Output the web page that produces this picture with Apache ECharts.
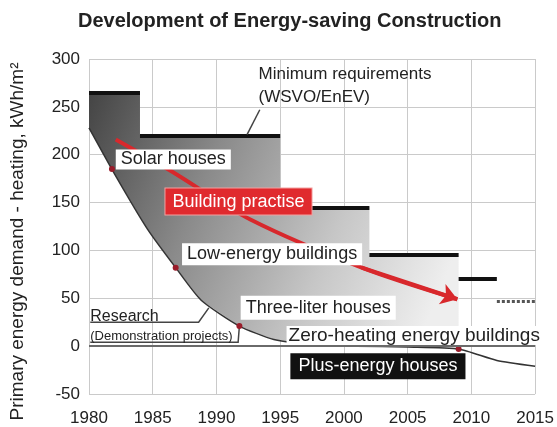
<!DOCTYPE html>
<html>
<head>
<meta charset="utf-8">
<script src="https://cdn.jsdelivr.net/npm/echarts@6/dist/echarts.min.js"></script>
<style>
  html, body { margin: 0; padding: 0; background: #fff; }
  #chart { width: 557px; height: 427px; }
</style>
</head>
<body>
<div id="chart"></div>
<script>
// minimum requirements (WSVO/EnEV): [from, to, value]
const minReqSteps = [[1980, 1984, 265], [1984, 1995, 220], [1995, 2002, 145], [2002, 2009, 95], [2009, 2012, 70]]
const minReqPlanned = [[2012, 2015, 47]]

// research / demonstration projects curve
const researchCurve = [
  [1980, 228], [1982, 180], [1984.6, 122], [1986.8, 82], [1988.8, 48], [1991.8, 21],
  [1994.5, 7], [1998, 1], [2001, 0], [2005, -1], [2009, -3], [2012, -15], [2015, -21],
]
const curveDots = [[1981.8, 185], [1986.8, 82], [1991.8, 21], [2009, -3]]

// building practise arrow
const practisePath = [[1982.1, 216], [1986.3, 184], [1992.7, 132], [2001.4, 82], [2008.9, 49]]

// leader lines
const minReqLeader = [[1992.4, 221], [1993.4, 247]]
const researchLeader = [[1980.1, 25], [1988.6, 25], [1989.4, 40]]
const demoLeader = [[1980.1, 4], [1991.7, 4], [1991.8, 21]]

// annotations: [text, x, y]
const annotations = [
  ['Minimum requirements\n(WSVO/EnEV)', 1993.3, 272],
  ['Solar houses', 1982.1, 195],
  ['Building practise', 1986.0, 151],
  ['Low-energy buildings', 1987.3, 96],
  ['Three-liter houses', 1991.9, 40],
  ['Research', 1980.1, 31],
  ['(Demonstration projects)', 1980.1, 10],
  ['Zero-heating energy buildings', 1995.5, 11],
  ['Plus-energy houses', 1995.8, -21],
]

const FONT = '"Liberation Sans", Arial, sans-serif'

const labelStyles = {
  'Minimum requirements\n(WSVO/EnEV)': { fontSize: 17, lineHeight: 23, color: '#222' },
  'Solar houses': { fontSize: 18, color: '#222', backgroundColor: '#fff', padding: [1, 5] },
  'Building practise': { fontSize: 18, color: '#fff', backgroundColor: '#e02a2e', borderColor: '#f3a0a0', borderWidth: 1, padding: [4, 7] },
  'Low-energy buildings': { fontSize: 18, color: '#222', backgroundColor: '#fff', padding: [2, 5] },
  'Three-liter houses': { fontSize: 18, color: '#222', backgroundColor: '#fff', padding: [3, 5] },
  'Research': { fontSize: 16, color: '#222' },
  '(Demonstration projects)': { fontSize: 13, color: '#222' },
  'Zero-heating energy buildings': { fontSize: 19, color: '#222', backgroundColor: '#fff', padding: [0, 2] },
  'Plus-energy houses': { fontSize: 18, color: '#fff', backgroundColor: '#111', padding: [4, 8] },
}

// gray area between the requirement steps and the research curve
function areaOutline() {
  const top = []
  minReqSteps.slice(0, 4).forEach(([s, e, v]) => { top.push([s, v], [e, v]) })
  const bottom = researchCurve.filter(p => p[0] <= 2009).slice().reverse()
  return top.concat(bottom)
}

const chart = echarts.init(document.getElementById('chart'))

const option = {
  animation: false,
  textStyle: { fontFamily: FONT },
  title: {
    text: 'Development of Energy-saving Construction',
    left: 73,
    top: 6,
    textStyle: { fontFamily: FONT, fontSize: 20, fontWeight: 'bold', color: '#222' },
  },
  grid: { left: 86, right: 18, top: 59, bottom: 32 },
  xAxis: {
    type: 'value',
    min: 1980,
    max: 2015,
    interval: 5,
    axisLine: { show: false },
    axisTick: { show: false },
    axisLabel: { fontSize: 17, color: '#222', margin: 16, formatter: v => String(v) },
    splitLine: { lineStyle: { color: '#cacaca' } },
  },
  yAxis: {
    type: 'value',
    min: -50,
    max: 300,
    interval: 50,
    name: 'Primary energy demand - heating, kWh/m²',
    nameLocation: 'middle',
    nameGap: 62,
    nameTextStyle: { fontSize: 19, color: '#222', padding: [0, 30, 0, 0] },
    axisLine: { show: false },
    axisTick: { show: false },
    axisLabel: { fontSize: 17, color: '#222', margin: 9 },
    splitLine: { lineStyle: { color: '#cacaca' } },
  },
  series: [
    {
      type: 'custom',
      data: [0],
      z: 1,
      renderItem: (params, api) => ({
        type: 'polygon',
        shape: { points: areaOutline().map(p => api.coord(p)) },
        style: {
          fill: new echarts.graphic.LinearGradient(0, 0, 1, 0.6, [
            { offset: 0, color: '#444444' },
            { offset: 0.35, color: '#8a8a8a' },
            { offset: 0.7, color: '#c6c6c6' },
            { offset: 1, color: '#eeeeee' },
          ]),
        },
      }),
      markLine: {
        silent: true,
        symbol: 'none',
        label: { show: false },
        lineStyle: { color: '#6a6a6a', width: 2, type: 'solid' },
        data: [{ yAxis: 0 }],
      },
    },
    {
      type: 'line',
      data: researchCurve,
      smooth: 0.2,
      symbol: 'none',
      z: 3,
      lineStyle: { color: '#333', width: 1.5 },
    },
    {
      type: 'scatter',
      data: curveDots,
      symbolSize: 6,
      z: 4,
      itemStyle: { color: '#9a1c2a', opacity: 1 },
    },
    {
      type: 'lines',
      coordinateSystem: 'cartesian2d',
      z: 3,
      data: minReqSteps.map(([s, e, v]) => ({ coords: [[s, v], [e, v]] })),
      lineStyle: { color: '#111', width: 4, opacity: 1 },
    },
    {
      type: 'lines',
      coordinateSystem: 'cartesian2d',
      z: 3,
      data: minReqPlanned.map(([s, e, v]) => ({ coords: [[s, v], [e, v]] })),
      lineStyle: { color: '#555', width: 3, type: [3, 2], opacity: 1 },
    },
    {
      type: 'lines',
      coordinateSystem: 'cartesian2d',
      polyline: true,
      z: 3,
      data: [{ coords: minReqLeader }, { coords: researchLeader }, { coords: demoLeader }],
      lineStyle: { color: '#444', width: 1.5, opacity: 1 },
    },
    {
      type: 'line',
      data: practisePath,
      smooth: 0.3,
      symbol: 'none',
      z: 5,
      lineStyle: { color: '#d8282c', width: 4 },
    },
    {
      // arrow head on the last stretch of the building practise path
      type: 'lines',
      coordinateSystem: 'cartesian2d',
      z: 5,
      symbol: ['none', 'arrow'],
      symbolSize: 16,
      data: [{ coords: practisePath.slice(-2) }],
      lineStyle: { color: '#d8282c', width: 4, opacity: 1 },
    },
    {
      type: 'scatter',
      symbolSize: 0,
      z: 10,
      silent: true,
      itemStyle: { opacity: 1 },
      data: annotations.map(([text, x, y]) => ({
        value: [x, y],
        label: Object.assign({
          show: true,
          position: 'right',
          distance: 0,
          fontFamily: FONT,
          formatter: text,
        }, labelStyles[text]),
      })),
    },
  ],
}

chart.setOption(option)
</script>
</body>
</html>
